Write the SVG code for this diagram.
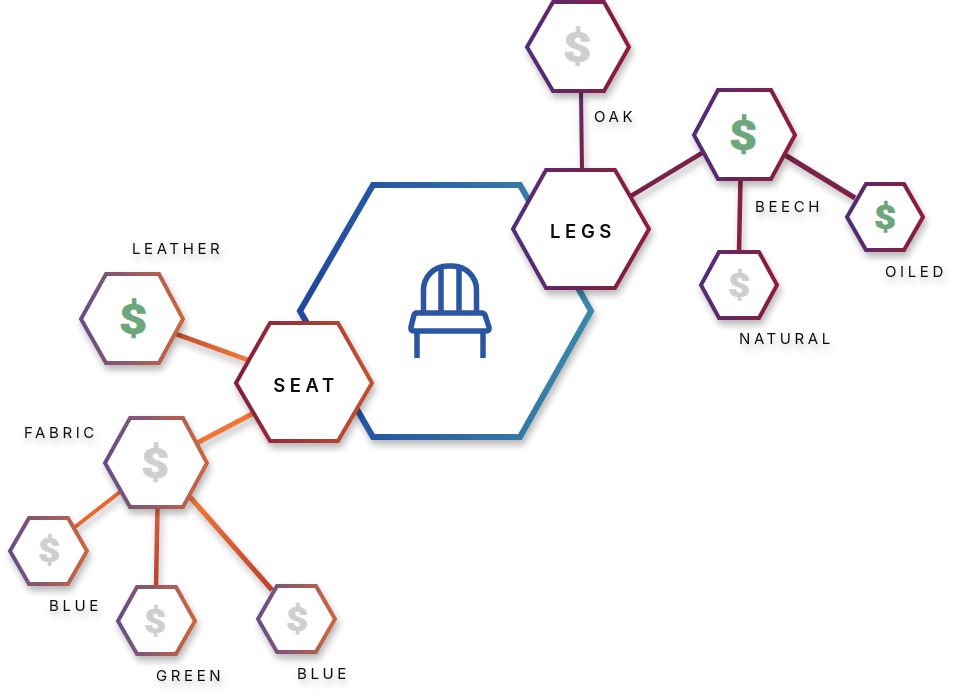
<svg xmlns="http://www.w3.org/2000/svg" width="976" height="698" viewBox="0 0 976 698">
<style>
.hex{fill:#fff;stroke-width:4;stroke-linejoin:miter}
.p{stroke:url(#gP)}
.o{stroke:url(#gO)}
.sh{filter:url(#shadow)}
.c{fill:none;stroke-linecap:butt}
.lbl{font-family:"Inter","Liberation Sans",sans-serif;font-size:15px;font-weight:400;letter-spacing:3.6px;fill:#111}
.big{font-family:"Inter","Liberation Sans",sans-serif;font-size:18.500px;font-weight:600;letter-spacing:4.6px;fill:#0a0a0a;text-anchor:middle}
.d{font-family:"Roboto","Liberation Sans",sans-serif;font-weight:900;text-anchor:middle;stroke-width:.5px;stroke-linejoin:round}
.g{fill:#cfcfcf;stroke:#cfcfcf}.m{fill:#6ca67a;stroke:#6ca67a}
.l{font-size:42px}.s{font-size:33px}
.chair{fill:none;stroke:#2a55a2;stroke-width:5.500;stroke-linejoin:round}
</style>
<defs>
<filter id="shadow" x="-30%" y="-30%" width="170%" height="170%"><feDropShadow dx="2" dy="5" stdDeviation="3.500" flood-color="#000" flood-opacity="0.28"/></filter>
<linearGradient id="gP"><stop offset="0" stop-color="#4f2e78"/><stop offset="1" stop-color="#8f1b38"/></linearGradient>
<linearGradient id="gO"><stop offset="0" stop-color="#634f8a"/><stop offset="1" stop-color="#cc6640"/></linearGradient>
<linearGradient id="gS"><stop offset="0" stop-color="#851c3c"/><stop offset="1" stop-color="#c6512f"/></linearGradient>
<linearGradient id="gB"><stop offset="0" stop-color="#20479f"/><stop offset="1" stop-color="#3b88ab"/></linearGradient>
<linearGradient id="l1" gradientUnits="userSpaceOnUse" x1="176" y1="334" x2="248" y2="360"><stop offset="0" stop-color="#c04e30"/><stop offset="1" stop-color="#f47a38"/></linearGradient>
<linearGradient id="l2" gradientUnits="userSpaceOnUse" x1="157" y1="507" x2="156" y2="587"><stop offset="0" stop-color="#dc6035"/><stop offset="1" stop-color="#b8412f"/></linearGradient>
<linearGradient id="l3" gradientUnits="userSpaceOnUse" x1="190" y1="497" x2="272" y2="590"><stop offset="0" stop-color="#f47a38"/><stop offset="1" stop-color="#b8412f"/></linearGradient>
<linearGradient id="l4" gradientUnits="userSpaceOnUse" x1="581" y1="91" x2="582" y2="170"><stop offset="0" stop-color="#5c2a6c"/><stop offset="1" stop-color="#7c2048"/></linearGradient>
</defs>

<g id="connectors" class="sh">
<path class="c" d="M176 334L248 360" stroke="url(#l1)" stroke-width="5"/>
<path class="c" d="M197 443L252 414" stroke="#f07638" stroke-width="5"/>
<path class="c" d="M120 492L75 527" stroke="#e8672f" stroke-width="4"/>
<path class="c" d="M157.500 507L156 587" stroke="url(#l2)" stroke-width="4.500"/>
<path class="c" d="M190 497L272 590" stroke="url(#l3)" stroke-width="5"/>
<path class="c" d="M581 91L582 170" stroke="url(#l4)" stroke-width="4"/>
<path class="c" d="M631 196L702 153" stroke="#7c2048" stroke-width="4.500"/>
<path class="c" d="M785 155L855 198" stroke="#7c2048" stroke-width="5"/>
<path class="c" d="M740.500 179L739 252" stroke="#83203f" stroke-width="4.500"/>
</g>

<g id="node-chair">
<polygon class="sh" points="373,185 520,185 591,311 520,437 373,437 300,311" fill="#fff" stroke="url(#gB)" stroke-width="6"/>
<g class="chair">
<path d="M423.500 313V290A24 24 0 0 1 447.500 266H452.500A24 24 0 0 1 476.500 290V313"/>
<path d="M441 266V313M459 266V313"/>
<path d="M416 313H482Q484 313 485 315L489 327Q490 331 486 331H414Q410 331 411 327L414 315Q415 313 416 313Z"/>
<path d="M417 331V358M483 331V358"/>
</g>
</g>

<g id="node-legs" class="sh">
<polygon class="hex p" points="546,170 615,170 649,229 615,288 546,288 513,229"/>
<text class="big" x="583" y="238">LEGS</text>
</g>
<g id="node-seat" class="sh">
<polygon class="hex" stroke="url(#gS)" points="270,323 338,323 372,383 338,441 270,441 236,383"/>
<text class="big" x="306" y="392">SEAT</text>
</g>

<g id="node-oak">
<polygon class="hex p sh" points="553,2 604,2 629,47 604,91 553,91 527,47"/>
<text class="d g l" transform="translate(577 62) scale(1.16 1)">$</text>
</g>
<g id="node-beech">
<polygon class="hex p sh" points="718,90 771,90 795,135 771,179 718,179 694,135"/>
<text class="d m l" transform="translate(743 150) scale(1.16 1)">$</text>
</g>
<g id="node-oiled">
<polygon class="hex p sh" points="866,184 904,184 923,217 904,250 866,250 847,217"/>
<text class="d m s" transform="translate(885 229) scale(1.16 1)">$</text>
</g>
<g id="node-natural">
<polygon class="hex p sh" points="719,252 759,252 777,285 759,318 719,318 701,285"/>
<text class="d g s" transform="translate(739 297) scale(1.16 1)">$</text>
</g>
<g id="node-leather">
<polygon class="hex o sh" points="106,274 159,274 183,319 159,363 106,363 81,319"/>
<text class="d m l" transform="translate(133 334) scale(1.16 1)">$</text>
</g>
<g id="node-fabric">
<polygon class="hex o sh" points="130,418 183,418 207,463 183,507 130,507 105,463"/>
<text class="d g l" transform="translate(155 478) scale(1.16 1)">$</text>
</g>
<g id="node-blue1">
<polygon class="hex o sh" points="29,518 68,518 87,551 68,584 29,584 10,551"/>
<text class="d g s" transform="translate(49 562) scale(1.16 1)">$</text>
</g>
<g id="node-green">
<polygon class="hex o sh" points="137,587 176,587 195,621 176,654 137,654 118,621"/>
<text class="d g s" transform="translate(155 633) scale(1.16 1)">$</text>
</g>
<g id="node-blue2">
<polygon class="hex o sh" points="277,586 316,586 335,619 316,652 277,652 258,619"/>
<text class="d g s" transform="translate(297 631) scale(1.16 1)">$</text>
</g>

<g id="labels" class="sh">
<text class="lbl" x="132" y="254">LEATHER</text>
<text class="lbl" x="24" y="438">FABRIC</text>
<text class="lbl" x="49" y="611">BLUE</text>
<text class="lbl" x="156" y="681">GREEN</text>
<text class="lbl" x="297" y="679">BLUE</text>
<text class="lbl" x="594" y="122">OAK</text>
<text class="lbl" x="755" y="212">BEECH</text>
<text class="lbl" x="885" y="277">OILED</text>
<text class="lbl" x="739" y="344">NATURAL</text>
</g>
</svg>
